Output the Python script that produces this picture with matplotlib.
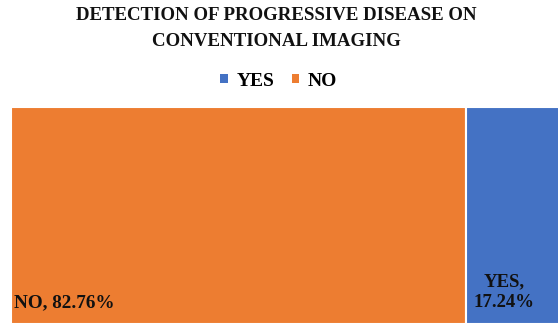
import matplotlib
matplotlib.use("Agg")
import matplotlib.pyplot as plt
from matplotlib.patches import Patch

title = "DETECTION OF PROGRESSIVE DISEASE ON\nCONVENTIONAL IMAGING"
categories = ["NO", "YES"]
shares = [82.76, 17.24]
colors = {"YES": "#4472C4", "NO": "#ED7D31"}
legend_order = ["YES", "NO"]

plt.rcParams["font.family"] = ["Liberation Serif", "DejaVu Serif"]
plt.rcParams["font.weight"] = "bold"

fig = plt.figure(figsize=(5.58, 3.27), dpi=100)
ax = fig.add_axes([11 / 558, 3 / 327, 550 / 558, 217 / 327])

label_y = -0.44
left = 0.0
for cat, val in zip(categories, shares):
    ax.barh(0, val, left=left, height=1.0, color=colors[cat],
            edgecolor="white", linewidth=1.5)
    if cat == "NO":
        ax.text(left + 0.5, label_y, f"{cat}, {val:.2f}%", ha="left", va="bottom",
                fontsize=13.8, fontweight="bold", color="#111111")
    else:
        ax.text(left + 1.4, label_y, f"{cat},\n{val:.2f}%", ha="left", va="bottom",
                fontsize=13.5, fontweight="bold", color="#111111",
                multialignment="center", linespacing=1.3)
    left += val

ax.set_xlim(0, 100)
ax.set_ylim(-0.5, 0.5)
ax.axis("off")

fig.text(0.495, 1 - 7 / 327, title, ha="center", va="top", fontsize=13.6,
         fontweight="bold", color="#111111", linespacing=1.7)

handles = [Patch(facecolor=colors[c], edgecolor="none") for c in legend_order]
fig.legend(handles, legend_order, loc="center", bbox_to_anchor=(0.5, 1 - 81 / 327),
           ncol=2, frameon=False, handlelength=0.38, handleheight=0.38,
           handletextpad=0.45, columnspacing=0.9,
           prop={"weight": "bold", "size": 14})

fig.savefig("out.png", dpi=100)
